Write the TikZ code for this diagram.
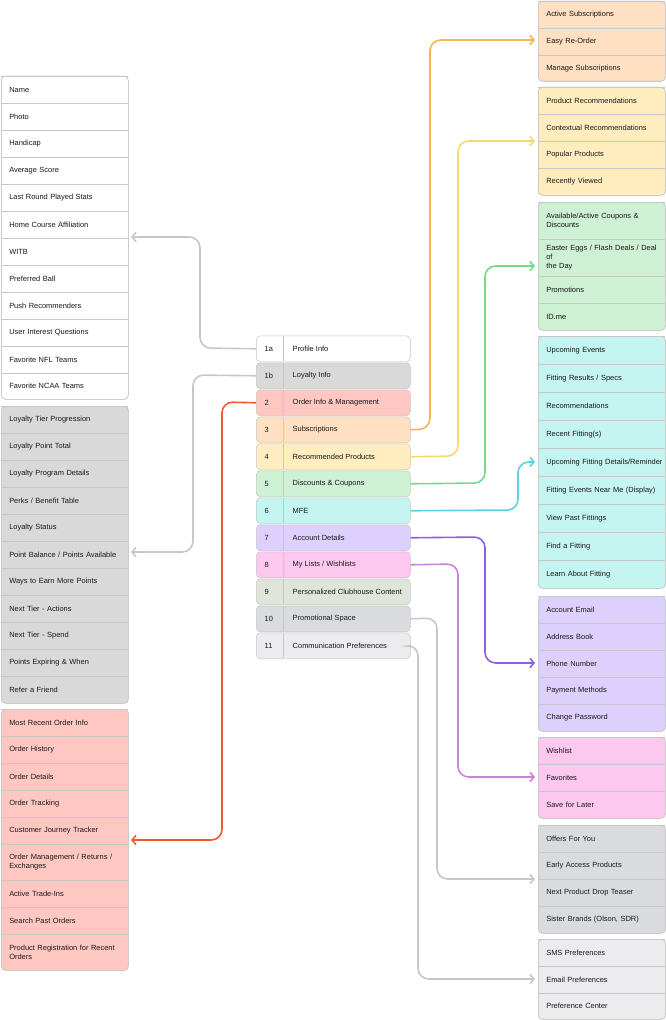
\documentclass[tikz,border=0pt]{standalone}
\usepackage{fontspec}
\setmainfont{Liberation Sans}
\usetikzlibrary{arrows.meta,positioning}

\definecolor{cProf}{HTML}{FFFFFF}
\definecolor{cLoy}{HTML}{D9D9D9}
\definecolor{cOrd}{HTML}{FFC7C2}
\definecolor{cSub}{HTML}{FFE0C2}
\definecolor{cRec}{HTML}{FFEDBF}
\definecolor{cDis}{HTML}{CDF1D2}
\definecolor{cMfe}{HTML}{C4F5F0}
\definecolor{cAcc}{HTML}{DDD0FC}
\definecolor{cLst}{HTML}{FCC8EF}
\definecolor{cClub}{HTML}{DFE5DA}
\definecolor{cPro}{HTML}{D9DBDF}
\definecolor{cCom}{HTML}{ECECEF}
\definecolor{lOrd}{HTML}{F05A2E}
\definecolor{lSub}{HTML}{F6B64C}
\definecolor{lRec}{HTML}{F7D86E}
\definecolor{lDis}{HTML}{6EDC8A}
\definecolor{lMfe}{HTML}{5CD2DE}
\definecolor{lAcc}{HTML}{8E5CE6}
\definecolor{lLst}{HTML}{C983D8}

\tikzset{
  every node/.style={font=\fontsize{5.6}{6.8}\selectfont, text=black!90},
  grp/.style={draw=black!22, rounded corners=3pt, anchor=north west, minimum width=95.25pt, inner sep=0pt},
  row/.style={anchor=north west, minimum width=95.25pt, inner xsep=6pt, inner ysep=0pt, text width=88pt, align=left},
  card/.style={draw=black!22, rounded corners=3pt, anchor=north west, minimum width=115.5pt, minimum height=19.5pt, inner sep=0pt},
  link/.style={line width=1.2pt, rounded corners=8pt, -{Straight Barb[length=3pt,width=7pt]}},
}

% a group of rows: name, x, top, height, fill, rows
\newcommand{\rowgroup}[6]{
  \node[grp, fill=#5, minimum height=#4*0.75pt] (#1) at (#2,#3) {};
  \foreach \y/\h/\t in {#6} {
    \draw[black!22] (#2,\y) -- ++(127,0);
    \node[row, minimum height=\h*0.75pt] at (#2,\y) {\t};
  }
  \node[grp, draw=black!22, minimum height=#4*0.75pt] at (#2,#3) {};
}

\begin{document}
\begin{tikzpicture}[x=0.75pt, y=-0.75pt]
  \useasboundingbox (0,0) rectangle (666,1020);

  % left groups
  \rowgroup{gprof}{1}{76}{323}{cProf}{76/27/Name, 103/27/Photo, 130/27/Handicap, 157/27/Average Score, 184/27/Last Round Played Stats, 211/27/Home Course Affiliation, 238/27/WITB, 265/27/Preferred Ball, 292/27/Push Recommenders, 319/27/User Interest Questions, 346/27/Favorite NFL Teams, 373/26/Favorite NCAA Teams}
  \rowgroup{gloy}{1}{406}{297}{cLoy}{406/27/Loyalty Tier Progression, 433/27/Loyalty Point Total, 460/27/Loyalty Program Details, 487/27/{Perks / Benefit Table}, 514/27/Loyalty Status, 541/27/{Point Balance / Points Available}, 568/27/Ways to Earn More Points, 595/27/Next Tier - Actions, 622/27/Next Tier - Spend, 649/27/Points Expiring \& When, 676/27/Refer a Friend}
  \rowgroup{gord}{1}{709}{261}{cOrd}{709/27/Most Recent Order Info, 736/27/Order History, 763/27/Order Details, 790/27/Order Tracking, 817/27/Customer Journey Tracker, 844/36/{Order Management / Returns /\\Exchanges}, 880/27/Active Trade-Ins, 907/27/Search Past Orders, 934/36/{Product Registration for Recent\\Orders}}

  % right groups
  \rowgroup{gsub}{538}{1}{80}{cSub}{1/27/Active Subscriptions, 28/27/Easy Re-Order, 55/26/Manage Subscriptions}
  \rowgroup{grec}{538}{87}{108}{cRec}{87/27/Product Recommendations, 114/27/Contextual Recommendations, 141/27/Popular Products, 168/27/Recently Viewed}
  \rowgroup{gdis}{538}{202}{128}{cDis}{202/37/{Available/Active Coupons \&\\Discounts}, 239/37/{Easter Eggs / Flash Deals / Deal of\\the Day}, 276/27/Promotions, 303/27/ID.me}
  \rowgroup{gmfe}{538}{336}{252}{cMfe}{336/28/Upcoming Events, 364/28/{Fitting Results / Specs}, 392/28/Recommendations, 420/28/Recent Fitting(s), 448/28/{Upcoming Fitting Details/Reminder}, 476/28/Fitting Events Near Me (Display), 504/28/View Past Fittings, 532/28/Find a Fitting, 560/28/Learn About Fitting}
  \rowgroup{gacc}{538}{596}{135}{cAcc}{596/27/Account Email, 623/27/Address Book, 650/27/Phone Number, 677/27/Payment Methods, 704/27/Change Password}
  \rowgroup{glst}{538}{737}{81}{cLst}{737/27/Wishlist, 764/27/Favorites, 791/27/Save for Later}
  \rowgroup{gpro}{538}{825}{108}{cPro}{825/27/Offers For You, 852/27/Early Access Products, 879/27/Next Product Drop Teaser, 906/27/{Sister Brands (Olson, SDR)}}
  \rowgroup{gcom}{538}{939}{80}{cCom}{939/27/SMS Preferences, 966/27/Email Preferences, 993/26/Preference Center}

  % middle cards
  \foreach \n/\k/\c/\t in {1a/0/cProf/Profile Info, 1b/1/cLoy/Loyalty Info, 2/2/cOrd/Order Info \& Management, 3/3/cSub/Subscriptions, 4/4/cRec/Recommended Products, 5/5/cDis/Discounts \& Coupons, 6/6/cMfe/MFE, 7/7/cAcc/Account Details, 8/8/cLst/{My Lists / Wishlists}, 9/9/cClub/Personalized Clubhouse Content, 10/10/cPro/Promotional Space, 11/11/cCom/Communication Preferences} {
    \node[card, fill=\c] (m\n) at (256,335.5+27*\k) {};
    \draw[black!22] (283,336+27*\k) -- (283,361+27*\k);
    \node[anchor=west] at (260,348.5+27*\k) {\n};
    \node[anchor=west] at (288,348.5+27*\k) {\t};
  }

  % connectors
  \coordinate (tprof) at (131,237);
  \coordinate (tloy) at (131,552);
  \coordinate (tord) at (131,840);
  \coordinate (tsub) at (535,40);
  \coordinate (trec) at (535,141);
  \coordinate (tdis) at (535,266);
  \coordinate (tmfe) at (535,462);
  \coordinate (tacc) at (535,663);
  \coordinate (tlst) at (535,777);
  \coordinate (tpro) at (535,879);
  \coordinate (tcom) at (535,979);
  \draw[link, black!22] (m1a.west) -- (200,348) -- (200,237) -- (tprof);
  \draw[link, black!22] (m1b.west) -- (193,375) -- (193,552) -- (tloy);
  \draw[link, lOrd] (m2.west) -- (222,402) -- (222,840) -- (tord);
  \draw[link, lSub] (m3.east) -- (430,429) -- (430,40) -- (tsub);
  \draw[link, lRec] (m4.east) -- (458,456) -- (458,141) -- (trec);
  \draw[link, lDis] (m5.east) -- (485,483) -- (485,266) -- (tdis);
  \draw[link, lMfe] (m6.east) -- (518,510) -- (518,462) -- (tmfe);
  \draw[link, lAcc] (m7.east) -- (485,537) -- (485,663) -- (tacc);
  \draw[link, lLst] (m8.east) -- (458,564) -- (458,777) -- (tlst);
  \draw[link, black!22] (m10.east) -- (437,618) -- (437,879) -- (tpro);
  \draw[link, black!22] (m11.east) -- (418,645) -- (418,979) -- (tcom);
\end{tikzpicture}
\end{document}
